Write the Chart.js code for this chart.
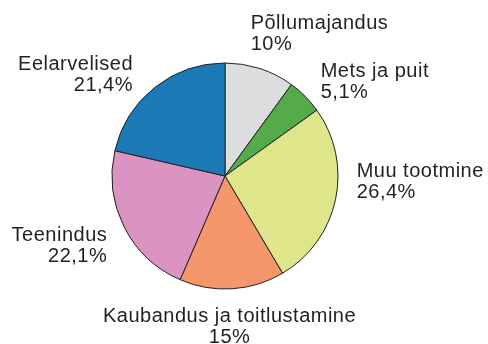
<!DOCTYPE html>
<html>
<head>
<meta charset="utf-8">
<script src="https://cdn.jsdelivr.net/npm/chart.js@4"></script>
<style>
  html, body { margin: 0; padding: 0; background: #ffffff; }
  #wrap { width: 488px; height: 344px; }
</style>
</head>
<body>
<div id="wrap"><canvas id="grafico-sektorid"></canvas></div>
<script>
const sektorid = ["Põllumajandus", "Mets ja puit", "Muu tootmine", "Kaubandus ja toitlustamine", "Teenindus", "Eelarvelised"];

const osakaalud = [10, 5.1, 26.4, 15, 22.1, 21.4];

const varvid = ["#dcdddf", "#55ab4a", "#dfe58a", "#f5976a", "#db93c1", "#1b7ab5"];

// silditeksti asukoht: murdosa raadiusest keskpunkti suhtes, joondus
const sildiKohad = [
  [0.227, -1.305, "left"],
  [0.847, -0.879, "left"],
  [1.165, 0.012, "left"],
  [0.040, 1.289, "center"],
  [-1.042, 0.573, "right"],
  [-0.814, -0.934, "right"],
];

function protsent(v) {
  return String(v).replace(".", ",") + "%";
}

const sildid = {
  id: "sildid",
  afterDraw(chart) {
    const ctx = chart.ctx;
    const kaared = chart.getDatasetMeta(0).data;
    if (!kaared.length) return;

    const cx = kaared[0].x;
    const cy = kaared[0].y;
    const r = kaared[0].outerRadius;

    ctx.save();
    ctx.fillStyle = "#231f20";
    ctx.font = "20px 'Liberation Sans', Arial, sans-serif";
    ctx.letterSpacing = "0.5px";
    ctx.textBaseline = "alphabetic";

    sektorid.forEach((nimi, i) => {
      const [fx, fy, joondus] = sildiKohad[i];
      const x = cx + fx * r;
      const y = cy + fy * r;
      ctx.textAlign = joondus;
      ctx.fillText(nimi, x, y);
      ctx.fillText(protsent(osakaalud[i]), x, y + 21);
    });

    ctx.restore();
  },
};

new Chart(document.getElementById("grafico-sektorid"), {
  type: "pie",
  data: {
    labels: sektorid,
    datasets: [
      {
        data: osakaalud,
        backgroundColor: varvid,
        borderColor: "#231f20",
        borderWidth: 1,
      },
    ],
  },
  options: {
    responsive: true,
    maintainAspectRatio: false,
    animation: false,
    layout: {
      padding: { left: 111.5, right: 149.5, top: 62.5, bottom: 54.5 },
    },
    plugins: {
      legend: { display: false },
      tooltip: { enabled: false },
    },
  },
  plugins: [sildid],
});
</script>
</body>
</html>
